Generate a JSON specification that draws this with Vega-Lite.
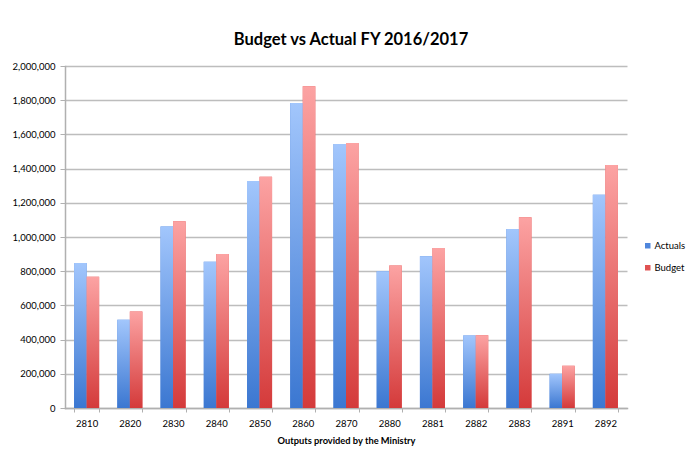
{
  "$schema": "https://vega.github.io/schema/vega-lite/v6.json",
  "width": 562,
  "height": 342,
  "autosize": {"type": "none"},
  "padding": {"left": 65, "top": 66, "right": 59, "bottom": 47},
  "background": "white",
  "title": {
    "text": "Budget vs Actual FY 2016/2017",
    "font": "Lato",
    "fontSize": 16.5,
    "fontWeight": "bold",
    "color": "#000000",
    "anchor": "middle",
    "dx": 5,
    "offset": 13
  },
  "data": {
    "values": [
      {"output": "2810", "series": "Actuals", "value": 848000},
      {"output": "2810", "series": "Budget", "value": 767000},
      {"output": "2820", "series": "Actuals", "value": 516000},
      {"output": "2820", "series": "Budget", "value": 564000},
      {"output": "2830", "series": "Actuals", "value": 1062000},
      {"output": "2830", "series": "Budget", "value": 1092000},
      {"output": "2840", "series": "Actuals", "value": 855000},
      {"output": "2840", "series": "Budget", "value": 900000},
      {"output": "2850", "series": "Actuals", "value": 1328000},
      {"output": "2850", "series": "Budget", "value": 1353000},
      {"output": "2860", "series": "Actuals", "value": 1784000},
      {"output": "2860", "series": "Budget", "value": 1882000},
      {"output": "2870", "series": "Actuals", "value": 1544000},
      {"output": "2870", "series": "Budget", "value": 1550000},
      {"output": "2880", "series": "Actuals", "value": 800000},
      {"output": "2880", "series": "Budget", "value": 833000},
      {"output": "2881", "series": "Actuals", "value": 888000},
      {"output": "2881", "series": "Budget", "value": 936000},
      {"output": "2882", "series": "Actuals", "value": 424000},
      {"output": "2882", "series": "Budget", "value": 425000},
      {"output": "2883", "series": "Actuals", "value": 1047000},
      {"output": "2883", "series": "Budget", "value": 1116000},
      {"output": "2891", "series": "Actuals", "value": 200000},
      {"output": "2891", "series": "Budget", "value": 247000},
      {"output": "2892", "series": "Actuals", "value": 1247000},
      {"output": "2892", "series": "Budget", "value": 1421000}
    ]
  },
  "encoding": {
    "x": {
      "field": "output",
      "type": "nominal",
      "sort": null,
      "scale": {"paddingInner": 0.42, "paddingOuter": 0.21},
      "axis": {
        "title": "Outputs provided by the Ministry",
        "titleFont": "Lato",
        "titleFontSize": 9.3,
        "titleFontWeight": "bold",
        "titleColor": "#000000",
        "titlePadding": 9,
        "labelFont": "Lato",
        "labelFontSize": 9.5,
        "labelColor": "#000000",
        "labelAngle": 0,
        "labelPadding": 6,
        "domainColor": "#b0b0b0",
        "domainWidth": 1.5,
        "tickColor": "#b0b0b0",
        "tickSize": 4,
        "tickBand": "extent",
        "grid": false
      }
    },
    "xOffset": {"field": "series", "type": "nominal", "scale": {"paddingInner": 0, "paddingOuter": 0}},
    "y": {
      "field": "value",
      "type": "quantitative",
      "scale": {"domain": [0, 2000000], "nice": false},
      "axis": {
        "title": null,
        "values": [0, 200000, 400000, 600000, 800000, 1000000, 1200000, 1400000, 1600000, 1800000, 2000000],
        "format": ",.0f",
        "labelFont": "Lato",
        "labelFontSize": 9.5,
        "labelColor": "#000000",
        "labelPadding": 5,
        "domainColor": "#b0b0b0",
        "domainWidth": 1.5,
        "tickColor": "#b0b0b0",
        "tickSize": 5,
        "gridColor": "#bdbdbd",
        "gridWidth": 1.6
      }
    }
  },
  "layer": [
    {
      "mark": {"type": "bar"},
      "encoding": {
        "color": {
          "field": "series",
          "type": "nominal",
          "scale": {"domain": ["Actuals", "Budget"], "range": ["#4f86dc", "#e05252"]},
          "legend": {
            "title": null,
            "orient": "none",
            "legendX": 578,
            "legendY": 175,
            "symbolType": "square",
            "symbolSize": 30,
            "symbolStrokeWidth": 0,
            "labelFont": "Lato",
            "labelFontSize": 9.5,
            "labelColor": "#000000",
            "labelOffset": 2,
            "rowPadding": 11
          }
        }
      }
    },
    {
      "transform": [{"filter": "datum.series === 'Actuals'"}],
      "mark": {
        "type": "bar",
        "fill": {
          "gradient": "linear",
          "x1": 0, "y1": 0, "x2": 0, "y2": 1,
          "stops": [
            {"offset": 0, "color": "#a2c6fc"},
            {"offset": 1, "color": "#3b77d1"}
          ]
        }
      },
      "encoding": {}
    },
    {
      "transform": [{"filter": "datum.series === 'Budget'"}],
      "mark": {
        "type": "bar",
        "fill": {
          "gradient": "linear",
          "x1": 0, "y1": 0, "x2": 0, "y2": 1,
          "stops": [
            {"offset": 0, "color": "#fca3a3"},
            {"offset": 1, "color": "#d43a3a"}
          ]
        }
      },
      "encoding": {}
    }
  ],
  "config": {
    "view": {"stroke": null},
    "axis": {"domainCap": "square"}
  }
}
